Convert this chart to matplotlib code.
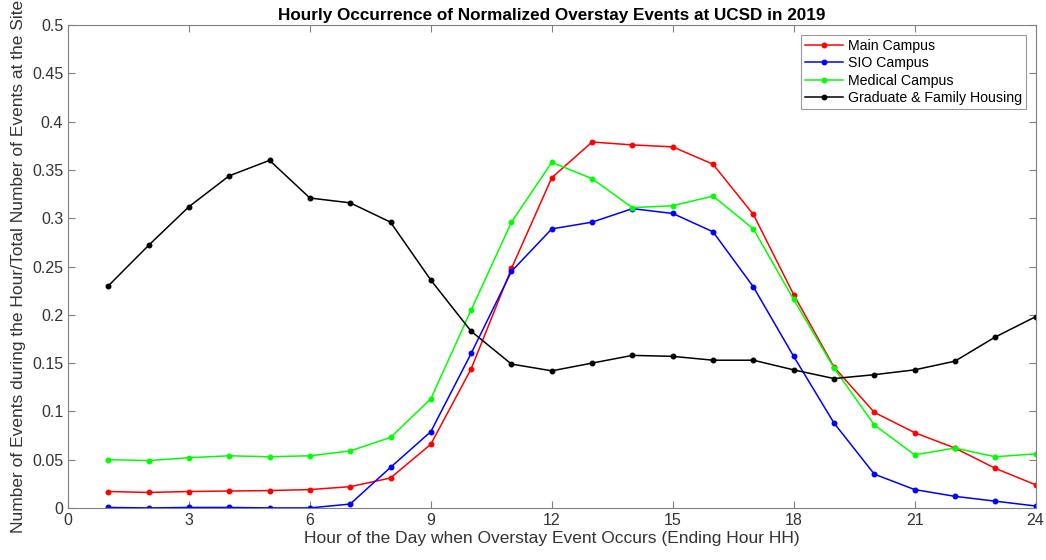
import numpy as np
import matplotlib.pyplot as plt
import matplotlib

matplotlib.rcParams['font.family'] = ['Liberation Sans', 'DejaVu Sans']

hours = list(range(1, 25))

main_campus = [0.017, 0.016, 0.017, 0.0175, 0.018, 0.019, 0.022, 0.031, 0.066, 0.144,
               0.248, 0.342, 0.379, 0.376, 0.374, 0.356, 0.304, 0.221, 0.146, 0.099,
               0.078, 0.062, 0.041, 0.024]
sio_campus = [0.0005, 0.0, 0.0005, 0.0005, 0.0, 0.0, 0.004, 0.042, 0.079, 0.160,
              0.245, 0.289, 0.296, 0.310, 0.305, 0.286, 0.229, 0.157, 0.088, 0.035,
              0.019, 0.012, 0.007, 0.002]
medical_campus = [0.050, 0.049, 0.052, 0.054, 0.053, 0.054, 0.059, 0.073, 0.113, 0.205,
                  0.296, 0.358, 0.341, 0.311, 0.313, 0.323, 0.289, 0.216, 0.145, 0.086,
                  0.055, 0.062, 0.053, 0.056]
grad_housing = [0.230, 0.272, 0.312, 0.344, 0.360, 0.321, 0.316, 0.296, 0.236, 0.183,
                0.149, 0.142, 0.150, 0.158, 0.157, 0.153, 0.153, 0.143, 0.134, 0.138,
                0.143, 0.152, 0.177, 0.198]

x_ticks = list(range(0, 25, 3))
y_ticks = [0, 0.05, 0.1, 0.15, 0.2, 0.25, 0.3, 0.35, 0.4, 0.45, 0.5]
y_labels = ['0', '0.05', '0.1', '0.15', '0.2', '0.25', '0.3', '0.35', '0.4', '0.45', '0.5']

fig = plt.figure(figsize=(10.46, 5.6), dpi=100)
ax = fig.add_axes([0.065, 0.093, 0.925, 0.862])

ax.plot(hours, main_campus, '.-', color=(1, 0, 0), lw=1.1, ms=6.5, label='Main Campus')
ax.plot(hours, sio_campus, '.-', color=(0, 0, 1), lw=1.1, ms=6.5, label='SIO Campus')
ax.plot(hours, medical_campus, '.-', color=(0, 1, 0), lw=1.1, ms=6.5, label='Medical Campus')
ax.plot(hours, grad_housing, '.-', color='black', lw=1.1, ms=6.5, label='Graduate & Family Housing')

ax.set_xlim(0, 24)
ax.set_ylim(0, 0.5)
ax.set_xticks(x_ticks)
ax.set_yticks(y_ticks)
ax.set_yticklabels(y_labels)

# matlab-like box: gray frame, ticks pointing in on all four sides
axis_color = '#333333'
for spine in ax.spines.values():
    spine.set_color('#808080')
    spine.set_linewidth(0.8)
ax.tick_params(direction='in', length=5, colors='#808080', labelcolor=axis_color,
               labelsize=11.5, top=True, right=True)

ax.set_xlabel('Hour of the Day when Overstay Event Occurs (Ending Hour HH)',
              fontsize=12.5, color=axis_color, labelpad=2)
ax.set_ylabel('Number of Events during the Hour/Total Number of Events at the Site',
              fontsize=12.5, color=axis_color, labelpad=4)
ax.set_title('Hourly Occurrence of Normalized Overstay Events at UCSD in 2019',
             fontsize=12.3, fontweight='bold', pad=4)

leg = ax.legend(loc='upper right', fontsize=10.2, frameon=True, fancybox=False,
                edgecolor='#808080', borderpad=0.25, labelspacing=0.25,
                handlelength=2.7, handletextpad=0.35, borderaxespad=0.7)
leg.get_frame().set_linewidth(0.8)

plt.savefig('out.png', dpi=100)
